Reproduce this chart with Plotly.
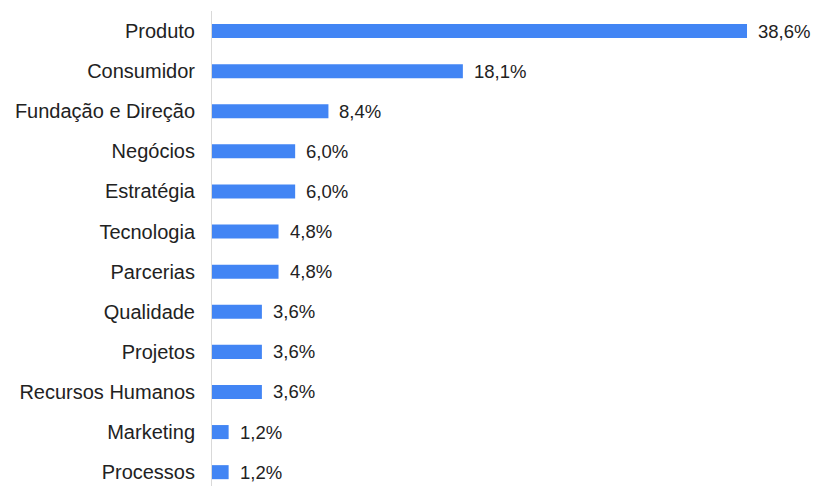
import plotly.graph_objects as go

categories = ["Produto", "Consumidor", "Fundação e Direção", "Negócios", "Estratégia",
              "Tecnologia", "Parcerias", "Qualidade", "Projetos", "Recursos Humanos",
              "Marketing", "Processos"]
values = [38.6, 18.1, 8.4, 6.0, 6.0, 4.8, 4.8, 3.6, 3.6, 3.6, 1.2, 1.2]
value_labels = [f"{v:.1f}%".replace(".", ",") for v in values]

fig = go.Figure()
fig.add_trace(go.Bar(
    y=categories, x=values, orientation="h",
    marker=dict(color="#4285F4", line=dict(width=0)),
    width=0.35,
    hoverinfo="skip",
))

for c, v, t in zip(categories, values, value_labels):
    fig.add_annotation(x=v, y=c, text=t, showarrow=False, xanchor="left",
                       yanchor="middle", xshift=9,
                       font=dict(family="Liberation Sans, Arial", size=18.5, color="#222222"))

fig.update_layout(
    width=813, height=486,
    margin=dict(l=212, r=5, t=11, b=0),
    paper_bgcolor="white", plot_bgcolor="white",
    showlegend=False,
    font=dict(family="Liberation Sans, Arial", color="#222222"),
    xaxis=dict(range=[0, 43], showgrid=False, zeroline=False, showticklabels=False,
               showline=False, fixedrange=True),
    yaxis=dict(type="category", categoryorder="array", categoryarray=categories,
               range=[11.345, -0.5], showgrid=False, zeroline=False,
               showline=True, linecolor="#d9d9d9", linewidth=1,
               ticks="", ticklabelstandoff=12,
               tickfont=dict(family="Liberation Sans, Arial", size=20, color="#222222")),
)

fig.write_html("out.html")
